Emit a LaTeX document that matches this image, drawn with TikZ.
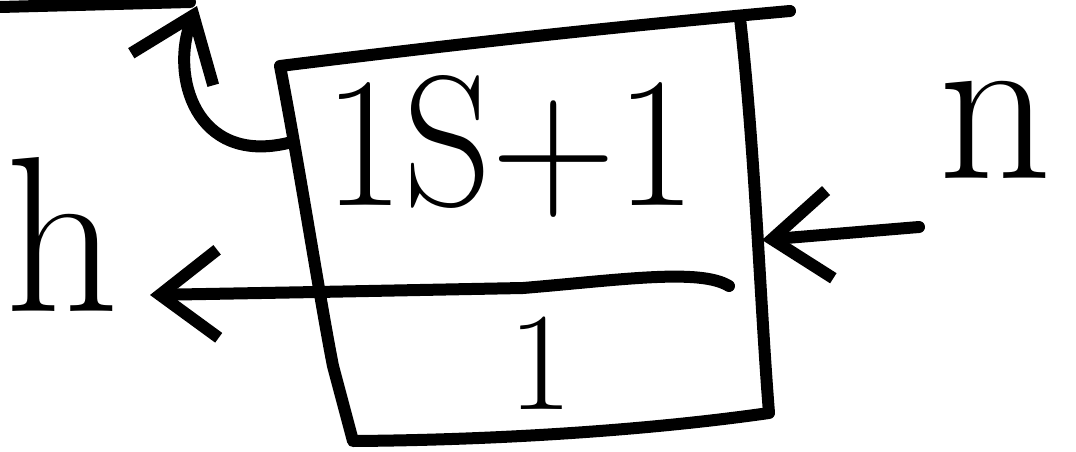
\documentclass[tikz,border=0pt]{standalone}
\usetikzlibrary{arrows.meta}
\begin{document}
\begin{tikzpicture}[x=1pt,y=-1pt,
  ink/.style={line width=12pt,line cap=round,line join=round},
  barb/.style={ink,-{Straight Barb[length=58pt,width=88pt]}},
  big/.style={inner sep=0pt,font=\fontsize{186}{186}\selectfont},
  huge/.style={inner sep=0pt,font=\fontsize{222}{222}\selectfont},
  small/.style={inner sep=0pt,font=\fontsize{140}{140}\selectfont}]
\useasboundingbox (0,0) rectangle (1076,452);
% box corners and edge points
\coordinate (tl) at (280,66);
\coordinate (tr) at (790,11);
\coordinate (rt) at (740,18);
\coordinate (br) at (769,413);
\coordinate (bl) at (353,441);
\coordinate (dl) at (317,292);
\coordinate (dr) at (729,286);
\coordinate (cl) at (288,143);
\coordinate (ctip) at (197,6);
\coordinate (htip) at (150,295);
\coordinate (nstart) at (919,227);
\coordinate (ntip) at (762,240);
% texts
\node[big] (tf) at (510,146) {\scalebox{0.93}[1]{1S+1}};
\node[small] (one) at (541,363) {1};
\node[huge] (h) at (62,234) {h};
\node[huge] (n) at (995,130) {n};
% top-left stroke
\draw[ink] (0,7) -- (190,2);
% box
\draw[ink] (tr) .. controls (600,28) and (450,45) .. (tl)
  .. controls (300,170) and (320,300) .. (333,366) -- (bl)
  .. controls (500,440) and (650,430) .. (br)
  .. controls (760,300) and (755,150) .. (rt);
% divider
\draw[ink] (dl) -- (523,288) .. controls (620,280) and (700,268) .. (dr);
% arrows
\draw[barb] (cl) .. controls (195,165) and (170,75) .. (ctip);
\draw[barb] (dl) -- (htip);
\draw[barb] (nstart) -- (ntip);
\end{tikzpicture}
\end{document}
